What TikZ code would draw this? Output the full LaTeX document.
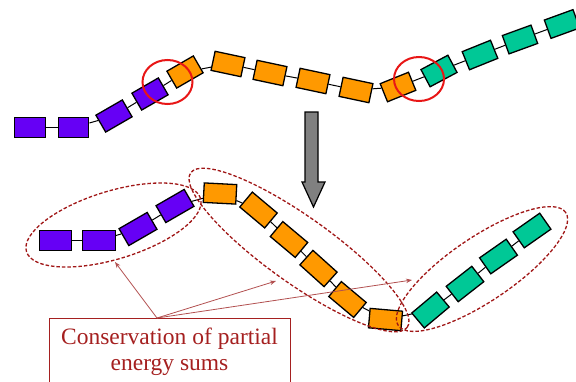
\documentclass[tikz,border=0pt]{standalone}
\usepackage{fontspec}
\setmainfont{Liberation Serif}
\usetikzlibrary{shapes.geometric,arrows.meta}
\definecolor{chainpurple}{RGB}{102,0,245}
\definecolor{chainorange}{RGB}{255,153,0}
\definecolor{chainteal}{RGB}{0,200,150}
\definecolor{ringred}{RGB}{232,22,22}
\definecolor{groupred}{RGB}{160,22,22}
\definecolor{pointerred}{RGB}{178,80,80}
\definecolor{notered}{RGB}{165,32,32}
\definecolor{arrowgray}{RGB}{128,128,128}
\begin{document}
\begin{tikzpicture}[x=1pt,y=-1pt,
  link/.style={draw=black, line width=1pt},
  bead/.style={rectangle, draw=black, line width=1.3pt, inner sep=0pt,
               minimum width=30.5pt, minimum height=19.5pt},
  beadlow/.style={bead, minimum width=32.5pt},
  pu/.style={fill=chainpurple},
  og/.style={fill=chainorange},
  tl/.style={fill=chainteal},
  ring/.style={ellipse, draw=ringred, line width=2pt, inner sep=0pt,
               minimum width=50pt, minimum height=44pt},
  group/.style={ellipse, draw=groupred, line width=1.3pt,
                dash pattern=on 3.5pt off 2pt, inner sep=0pt},
  pointer/.style={draw=pointerred, line width=0.8pt,
                  -{Stealth[length=6pt,width=4.5pt]}},
]
\useasboundingbox (0,0) rectangle (576,381);

% ---------- upper chain ----------
\node[bead,pu]            (ap1) at (30,127.5) {};
\node[bead,pu]            (ap2) at (73.5,127.5) {};
\node[bead,pu,rotate=30]  (ap3) at (114,116) {};
\node[bead,pu,rotate=30]  (ap4) at (150,94) {};
\node[bead,og,rotate=30]  (ao1) at (185,72) {};
\node[bead,og,rotate=-12] (ao2) at (228,64) {};
\node[bead,og,rotate=-12] (ao3) at (270,73) {};
\node[bead,og,rotate=-12] (ao4) at (313,81) {};
\node[bead,og,rotate=-12] (ao5) at (356,90) {};
\node[bead,og,rotate=22]  (ao6) at (398,87) {};
\node[bead,tl,rotate=28]  (at1) at (439,71) {};
\node[bead,tl,rotate=22]  (at2) at (480,55) {};
\node[bead,tl,rotate=20]  (at3) at (520,39.5) {};
\node[bead,tl,rotate=20]  (at4) at (562,24) {};
\foreach \a/\b in {ap1/ap2,ap2/ap3,ap3/ap4,ap4/ao1,ao1/ao2,ao2/ao3,ao3/ao4,
                   ao4/ao5,ao5/ao6,ao6/at1,at1/at2,at2/at3,at3/at4}
  \draw[link] (\a) -- (\b);

% junction markers
\node[ring] (join1) at (167.5,82) {};
\node[ring] (join2) at (419,79) {};

% ---------- downward arrow ----------
\draw[fill=arrowgray, line width=1.2pt, line join=miter]
  (305,112) -- (318,112) -- (318,182) -- (325,182) -- (313.5,207)
  -- (302,182) -- (305,182) -- cycle;

% ---------- lower chain ----------
\node[beadlow,pu]            (bp1) at (55.5,240.5) {};
\node[beadlow,pu]            (bp2) at (99,240.5) {};
\node[beadlow,pu,rotate=30]  (bp3) at (138,229) {};
\node[beadlow,pu,rotate=30]  (bp4) at (175,206) {};
\node[beadlow,og,rotate=-3]  (bo1) at (220,193.5) {};
\node[beadlow,og,rotate=-40] (bo2) at (258.5,210) {};
\node[beadlow,og,rotate=-40] (bo3) at (289,239.5) {};
\node[beadlow,og,rotate=-42] (bo4) at (318.5,268.5) {};
\node[beadlow,og,rotate=-40] (bo5) at (347.5,299.5) {};
\node[beadlow,og,rotate=-5]  (bo6) at (385.5,319.5) {};
\node[beadlow,tl,rotate=40]  (bt1) at (430.5,310) {};
\node[beadlow,tl,rotate=38]  (bt2) at (465,284) {};
\node[beadlow,tl,rotate=35]  (bt3) at (498.5,256.5) {};
\node[beadlow,tl,rotate=35]  (bt4) at (532,230.5) {};
\foreach \a/\b in {bp1/bp2,bp2/bp3,bp3/bp4,bp4/bo1,bo1/bo2,bo2/bo3,bo3/bo4,
                   bo4/bo5,bo5/bo6,bo6/bt1,bt1/bt2,bt2/bt3,bt3/bt4}
  \draw[link] (\a) -- (\b);

% groups of conserved partial sums
\node[group, minimum width=182pt, minimum height=68pt, rotate=17]   (grp1) at (113.5,225) {};
\node[group, minimum width=266pt, minimum height=66pt, rotate=-35.5] (grp2) at (299,250) {};
\node[group, minimum width=202pt, minimum height=64pt, rotate=34]   (grp3) at (482,269) {};

% ---------- annotation ----------
\node[draw=notered, line width=1pt, inner sep=0pt, minimum width=241pt,
      minimum height=68pt, align=center, text=notered,
      font=\fontsize{23.5}{26}\selectfont] (note) at (169.5,352)
  {Conservation of partial\\energy sums};

\coordinate (src) at (157,318);
\coordinate (tip1) at (115,262);
\coordinate (tip2) at (276,281);
\coordinate (tip3) at (412,280);
\draw[pointer] (src) -- (tip1);
\draw[pointer] (src) -- (tip2);
\draw[pointer] (src) -- (tip3);
\end{tikzpicture}
\end{document}
